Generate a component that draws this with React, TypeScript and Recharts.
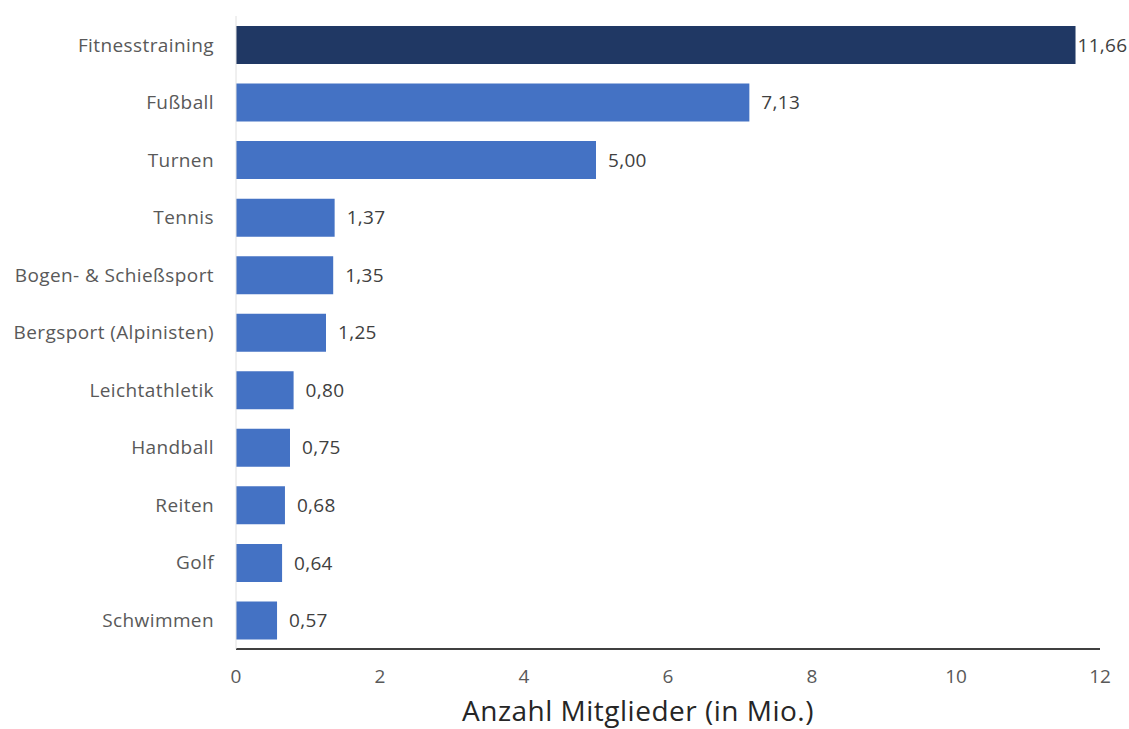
import { BarChart, Bar, XAxis, YAxis, Cell, LabelList, Label } from 'recharts';

const sports = [
  'Fitnesstraining',
  'Fußball',
  'Turnen',
  'Tennis',
  'Bogen- & Schießsport',
  'Bergsport (Alpinisten)',
  'Leichtathletik',
  'Handball',
  'Reiten',
  'Golf',
  'Schwimmen',
];

const members = [11.66, 7.13, 5.0, 1.37, 1.35, 1.25, 0.8, 0.75, 0.68, 0.64, 0.57];

const xTicks = [0, 2, 4, 6, 8, 10, 12];

const chartData = sports.map((name, i) => ({ name, value: members[i] }));

const font = "'Open Sans', 'Noto Sans', sans-serif";

// value labels: Excel squeezes the top one against the bar, the rest sit a bit further out
const renderValue = (props: any) => {
  const { x, y, width, height, value, index } = props;
  const gap = index === 0 ? 2 : 12;
  return (
    <text
      x={Number(x) + Number(width) + gap}
      y={Number(y) + Number(height) / 2}
      dy='0.35em'
      fontSize={19}
      fill='#404040'
      fontFamily={font}
      letterSpacing={0.3}
    >
      {Number(value).toFixed(2).replace('.', ',')}
    </text>
  );
};

export default function App() {
  return (
    <div style={{ position: 'absolute', left: 0, top: 0, background: '#fff' }}>
      <BarChart
        width={1129}
        height={729}
        data={chartData}
        layout='vertical'
        margin={{ top: 16, right: 29, bottom: 0, left: 0 }}
        barSize={38}
      >
        <XAxis
          type='number'
          domain={[0, 12]}
          ticks={xTicks}
          height={80}
          tickLine={false}
          tickMargin={15}
          axisLine={{ stroke: '#000', strokeWidth: 1.5 }}
          tick={{ fontSize: 19, fill: '#595959', fontFamily: font }}
        >
          <Label
            value='Anzahl Mitglieder (in Mio.)'
            position='insideBottom'
            offset={8}
            dx={-30}
            style={{ fontSize: 28, fill: '#262626', fontFamily: font, letterSpacing: 0.5 }}
          />
        </XAxis>
        <YAxis
          type='category'
          dataKey='name'
          width={236}
          tickLine={false}
          tickMargin={16}
          axisLine={{ stroke: '#e0e0e0', strokeWidth: 1 }}
          tick={{ fontSize: 19, fill: '#595959', fontFamily: font, letterSpacing: 0.4 }}
        />
        <Bar dataKey='value' isAnimationActive={false}>
          {chartData.map((d, i) => (
            <Cell key={d.name} fill={i === 0 ? '#203864' : '#4472C4'} />
          ))}
          <LabelList dataKey='value' content={renderValue} />
        </Bar>
      </BarChart>
    </div>
  );
}
